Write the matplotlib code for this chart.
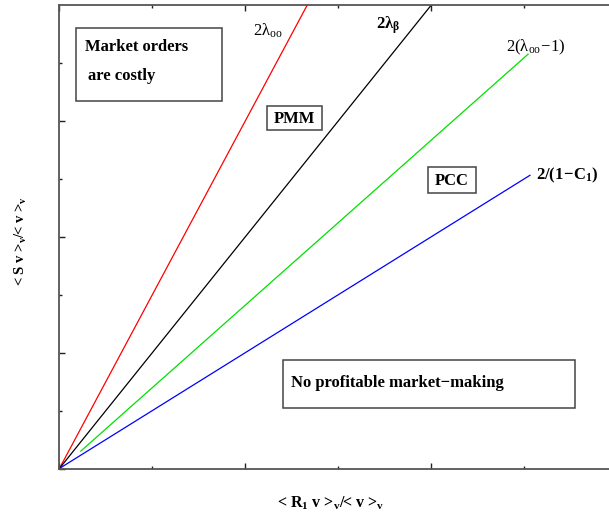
import matplotlib
matplotlib.use("Agg")
import matplotlib.pyplot as plt
from matplotlib.patches import Rectangle
from matplotlib.ticker import MultipleLocator

plt.rcParams['font.family'] = ['Liberation Serif', 'DejaVu Serif']
plt.rcParams['mathtext.fontset'] = 'custom'
plt.rcParams['mathtext.rm'] = 'Liberation Serif'
plt.rcParams['mathtext.it'] = 'Liberation Serif'
plt.rcParams['mathtext.bf'] = 'Liberation Serif:bold'
plt.rcParams['mathtext.default'] = 'regular'

# ---- data (line endpoints) ----
red_x = [0.0, 1.333]
red_y = [0.0, 4.0]
black_x = [0.0, 2.0]
black_y = [0.0, 4.0]
green_x = [0.115, 2.52]
green_y = [0.15, 3.575]
blue_x = [0.0, 2.53]
blue_y = [0.0, 2.53]

line_labels = [r"$2\lambda_{oo}$", r"$2\lambda_{\beta}$", r"$2(\lambda_{oo}\!-\!1)$", r"$2/(1\!-\!C_1)$"]
box_labels = ["Market orders\n are costly", "PMM", "PCC", "No profitable market\u2212making"]
xlabel = r"< R$_1$ v >$_v$/< v >$_v$"
ylabel = r"< S v >$_v$/< v >$_v$"

W, H = 609, 521
fig = plt.figure(figsize=(W / 100, H / 100), dpi=100)
L, B, T = 59.4, 468.5, 5.0
ax = fig.add_axes([L / W, (H - B) / H, 1 - L / W, (B - T) / H])
XU, YU = 186.0, 115.9
ax.set_xlim(0, (W - L) / XU)
ax.set_ylim(0, (B - T) / YU)


def P(px, py):
    return ((px - L) / XU, (B - py) / YU)


ax.plot(red_x, red_y, color='#ff0000', lw=0.9)
ax.plot(black_x, black_y, color='black', lw=0.9)
ax.plot(green_x, green_y, color='#00e000', lw=0.9)
ax.plot(blue_x, blue_y, color='#0000ff', lw=0.9)

spc = '#555555'
for s in ['left', 'bottom', 'top']:
    ax.spines[s].set_color(spc)
    ax.spines[s].set_linewidth(1.3)
ax.spines['right'].set_visible(False)

ax.xaxis.set_major_locator(MultipleLocator(1))
ax.xaxis.set_minor_locator(MultipleLocator(0.5))
ax.yaxis.set_major_locator(MultipleLocator(1))
ax.yaxis.set_minor_locator(MultipleLocator(0.5))
ax.tick_params(which='both', direction='in', top=True, right=False,
               labelbottom=False, labelleft=False, color='#222222', width=1.0)
ax.tick_params(which='major', length=4.3)
ax.tick_params(which='minor', length=2.4)

fs = 12
# line labels
ax.text(*P(253, 31), line_labels[0], fontsize=fs, ha='left', va='center')
ax.text(*P(376, 25), line_labels[1], fontsize=fs, ha='left', va='center', fontweight='bold')
ax.text(*P(506, 47), line_labels[2], fontsize=fs, ha='left', va='center')
ax.text(*P(536, 175), line_labels[3], fontsize=fs, ha='left', va='center', fontweight='bold')

# boxes
def box(x0, y0, x1, y1):
    (dx0, dy1) = P(x0, y1)
    (dx1, dy0) = P(x1, y0)
    ax.add_patch(Rectangle((dx0, dy1), dx1 - dx0, dy0 - dy1, fill=False,
                           edgecolor='#444444', lw=1.1))

box(75.7, 28.3, 221.7, 100.7)
ax.text(*P(85.3, 47), "Market orders", fontsize=fs, fontweight='bold', ha='left', va='center')
ax.text(*P(88.3, 76), "are costly", fontsize=fs, fontweight='bold', ha='left', va='center')

box(266.7, 106, 321.7, 130)
ax.text(*P(294.2, 118.5), box_labels[1], fontsize=fs, fontweight='bold', ha='center', va='center')

box(428.3, 167.3, 476, 193.3)
ax.text(*P(452.2, 181), box_labels[2], fontsize=fs, fontweight='bold', ha='center', va='center')

box(283.5, 360, 574.8, 407.8)
ax.text(*P(291.3, 383), box_labels[3], fontsize=fs, fontweight='bold', ha='left', va='center')

fig.text(330 / W, 1 - 503 / H, xlabel, fontsize=11.5, fontweight='bold', ha='center', va='center')
fig.text(21 / W, 1 - 241 / H, ylabel, fontsize=10.5, fontweight='bold', ha='center', va='center',
         rotation=90)

fig.savefig('out.png', dpi=100)
